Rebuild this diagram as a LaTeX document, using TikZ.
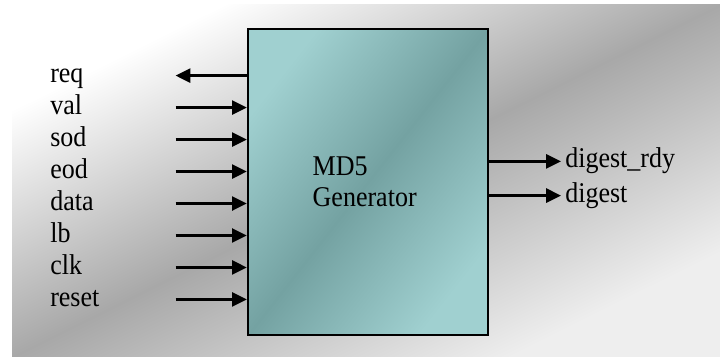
\documentclass[tikz,border=0pt]{standalone}
\usepackage{fontspec}
\setmainfont{Liberation Serif}
\usetikzlibrary{arrows.meta,positioning}
\definecolor{tealL}{RGB}{160,208,208}
\definecolor{tealD}{RGB}{116,162,162}
\definecolor{bgGrey}{RGB}{168,168,168}
\definecolor{bgLight}{RGB}{238,238,238}
\tikzset{sigtip/.tip={Triangle[length=0.37cm,width=0.35cm]}}
\begin{document}
\begin{tikzpicture}[
    tall/.style={yscale=1.1, transform shape, font=\fontsize{18.5}{19.8}\selectfont},
    sig/.style={tall, inner sep=0, text width=3.125cm, align=left, text height=0.445cm, text depth=0.145cm},
    outsig/.style={tall, inner xsep=0.1cm, inner ysep=0, text height=0.445cm, text depth=0.145cm},
    wire/.style={line width=1.8pt},
  ]
    \useasboundingbox (0,0) rectangle (18,8.95);
    \shade[transform canvas={xscale=2.0114}, top color=white, bottom color=bgLight, middle color=bgGrey, shading angle=45] (0.1492,0.025) rectangle ++(8.8,8.8);
    \node(gen) [rectangle, draw, line width=1.7pt, minimum width=6cm, minimum height=7.65cm, top color=tealL, bottom color=tealL, middle color=tealD, shading angle=51.9] at (9.2,4.4) {};
    \node(title) [tall, align=left, inner sep=0, right=1.64cm of gen.west] {MD5\\Generator};
    % inputs
    \node(req) [sig, anchor=west] at (1.25,7.06) {req};
    \node(val) [sig, below=0.135cm of req] {val};
    \node(sod) [sig, below=0.135cm of val] {sod};
    \node(eod) [sig, below=0.135cm of sod] {eod};
    \node(data) [sig, below=0.135cm of eod] {data};
    \node(lb) [sig, below=0.135cm of data] {lb};
    \node(clk) [sig, below=0.135cm of lb] {clk};
    \node(reset) [sig, below=0.135cm of clk] {reset};
    \draw[wire, sigtip-] (req) -- (req -| gen.west);
    \draw[wire, -sigtip] (val) -- (val -| gen.west);
    \draw[wire, -sigtip] (sod) -- (sod -| gen.west);
    \draw[wire, -sigtip] (eod) -- (eod -| gen.west);
    \draw[wire, -sigtip] (data) -- (data -| gen.west);
    \draw[wire, -sigtip] (lb) -- (lb -| gen.west);
    \draw[wire, -sigtip] (clk) -- (clk -| gen.west);
    \draw[wire, -sigtip] (reset) -- (reset -| gen.west);
    % outputs
    \node(rdy) [outsig, anchor=west] at (14.025,4.915) {digest\_rdy};
    \node(digest) [outsig, below right=0.19cm and 0cm of rdy.south west] {digest};
    \draw[wire, -sigtip] (gen.east |- rdy) -- (rdy);
    \draw[wire, -sigtip] (gen.east |- digest) -- (digest);
\end{tikzpicture}
\end{document}
